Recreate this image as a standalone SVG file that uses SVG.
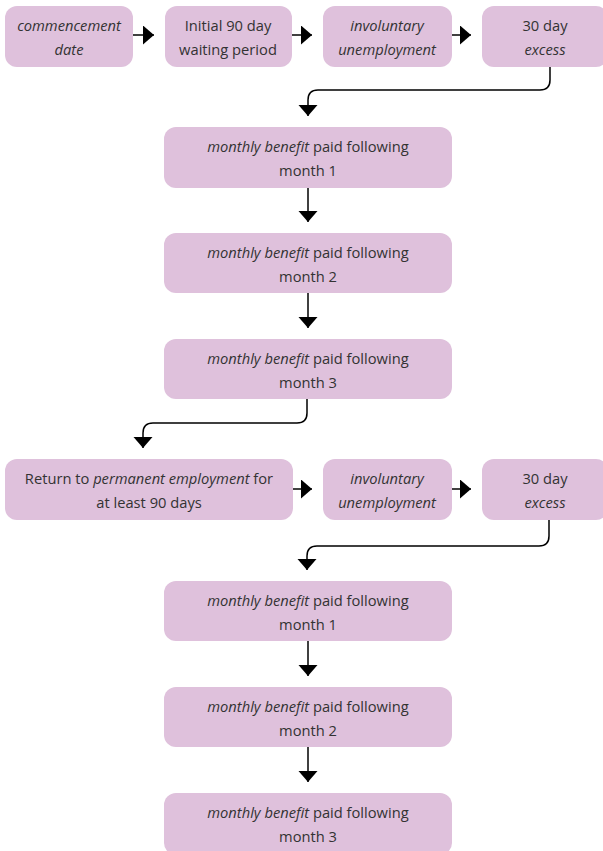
<svg xmlns="http://www.w3.org/2000/svg" width="603" height="851" viewBox="0 0 603 851">
<defs>
<style>
.box{fill:#dfc1dc;}
.t{font-family:"Open Sans","Noto Sans",sans-serif;font-size:14.7px;fill:#333;text-anchor:middle;}
.i{font-style:italic;}
.c{fill:none;stroke:#000;stroke-width:1.5;}
</style>
<marker id="ah" markerUnits="userSpaceOnUse" markerWidth="12" markerHeight="20" refX="11" refY="9.5" orient="auto">
<path d="M0,0 L11,9.5 L0,19 z" fill="#000"/>
</marker>
</defs>
<rect width="603" height="851" fill="#fff"/>
<g id="connectors">
<path class="c" d="M133,35 H154" marker-end="url(#ah)"/>
<path class="c" d="M292,35 H312" marker-end="url(#ah)"/>
<path class="c" d="M452,35 H471" marker-end="url(#ah)"/>
<path class="c" d="M550,67 V80 Q550,90 540,90 H318 Q308,90 308,100 V116" marker-end="url(#ah)"/>
<path class="c" d="M308,188 V222" marker-end="url(#ah)"/>
<path class="c" d="M308,293 V328" marker-end="url(#ah)"/>
<path class="c" d="M307,399 V413 Q307,423 297,423 H153 Q143,423 143,433 V448" marker-end="url(#ah)"/>
<path class="c" d="M293,489 H312" marker-end="url(#ah)"/>
<path class="c" d="M452,489 H471" marker-end="url(#ah)"/>
<path class="c" d="M549,520 V536 Q549,546 539,546 H317 Q307,546 307,556 V570" marker-end="url(#ah)"/>
<path class="c" d="M308,641 V676" marker-end="url(#ah)"/>
<path class="c" d="M308,747 V782" marker-end="url(#ah)"/>
</g>
<g id="n1"><rect class="box" x="5" y="6" width="128" height="61" rx="12"/>
<text class="t i" x="69" y="31">commencement</text><text class="t i" x="69" y="55">date</text></g>
<g id="n2"><rect class="box" x="165" y="6" width="127" height="61" rx="12"/>
<text class="t" x="228" y="31">Initial 90 day</text><text class="t" x="228" y="55">waiting period</text></g>
<g id="n3"><rect class="box" x="323" y="6" width="129" height="61" rx="12"/>
<text class="t i" x="387" y="31">involuntary</text><text class="t i" x="387" y="55">unemployment</text></g>
<g id="n4"><rect class="box" x="482" y="6" width="126" height="61" rx="12"/>
<text class="t" x="545" y="31">30 day</text><text class="t i" x="545" y="55">excess</text></g>
<g id="n5"><rect class="box" x="164" y="127" width="288" height="61" rx="12"/>
<text class="t" x="308" y="152"><tspan class="i">monthly benefit</tspan> paid following</text><text class="t" x="308" y="176">month 1</text></g>
<g id="n6"><rect class="box" x="164" y="233" width="288" height="60" rx="12"/>
<text class="t" x="308" y="258"><tspan class="i">monthly benefit</tspan> paid following</text><text class="t" x="308" y="282">month 2</text></g>
<g id="n7"><rect class="box" x="164" y="339" width="288" height="60" rx="12"/>
<text class="t" x="308" y="364"><tspan class="i">monthly benefit</tspan> paid following</text><text class="t" x="308" y="388">month 3</text></g>
<g id="n8"><rect class="box" x="5" y="459" width="288" height="61" rx="12"/>
<text class="t" x="149" y="484">Return to <tspan class="i">permanent employment</tspan> for</text><text class="t" x="149" y="508">at least 90 days</text></g>
<g id="n9"><rect class="box" x="323" y="459" width="129" height="61" rx="12"/>
<text class="t i" x="387" y="484">involuntary</text><text class="t i" x="387" y="508">unemployment</text></g>
<g id="n10"><rect class="box" x="482" y="459" width="126" height="61" rx="12"/>
<text class="t" x="545" y="484">30 day</text><text class="t i" x="545" y="508">excess</text></g>
<g id="n11"><rect class="box" x="164" y="581" width="288" height="60" rx="12"/>
<text class="t" x="308" y="606"><tspan class="i">monthly benefit</tspan> paid following</text><text class="t" x="308" y="630">month 1</text></g>
<g id="n12"><rect class="box" x="164" y="687" width="288" height="60" rx="12"/>
<text class="t" x="308" y="712"><tspan class="i">monthly benefit</tspan> paid following</text><text class="t" x="308" y="736">month 2</text></g>
<g id="n13"><rect class="box" x="164" y="793" width="288" height="62" rx="12"/>
<text class="t" x="308" y="818"><tspan class="i">monthly benefit</tspan> paid following</text><text class="t" x="308" y="842">month 3</text></g>
</svg>
